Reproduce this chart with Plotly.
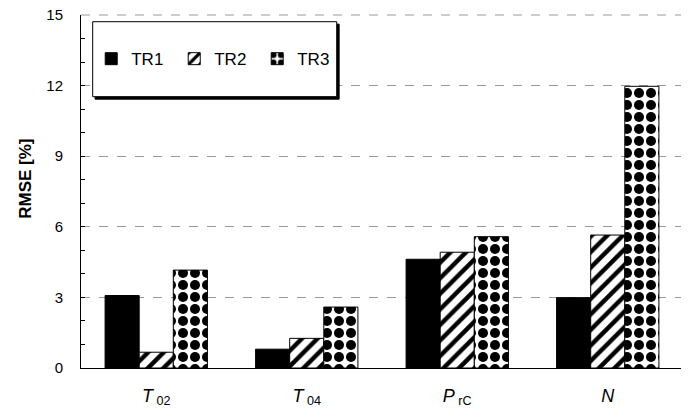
import plotly.graph_objects as go

categories = ["<i>T</i><sub> 02</sub>", "<i>T</i><sub> 04</sub>", "<i>P</i><sub> rC</sub>", "<i>N</i>"]
tr1 = [3.08, 0.80, 4.62, 2.99]
tr2 = [0.67, 1.26, 4.92, 5.65]
tr3 = [4.16, 2.59, 5.58, 11.97]
y_ticks = [0, 3, 6, 9, 12, 15]

FONT = "Liberation Sans, Arial, sans-serif"

fig = go.Figure()
fig.add_trace(go.Bar(name="TR1", x=categories, y=tr1,
                     marker=dict(color="black", line=dict(color="black", width=1))))
fig.add_trace(go.Bar(name="TR2", x=categories, y=tr2,
                     marker=dict(color="white", line=dict(color="black", width=1),
                                 pattern=dict(shape="/", fgcolor="black", bgcolor="white",
                                              fgopacity=1, size=11, solidity=0.4,
                                              fillmode="replace"))))
fig.add_trace(go.Bar(name="TR3", x=categories, y=tr3,
                     marker=dict(color="white", line=dict(color="black", width=1),
                                 pattern=dict(shape=".", fgcolor="black", bgcolor="white",
                                              fgopacity=1, size=12, solidity=0.55,
                                              fillmode="replace"))))

# top dashed boundary and right border
fig.add_shape(type="line", xref="paper", yref="paper", x0=0, x1=1, y0=1, y1=1,
              line=dict(color="#999999", width=1, dash="dash"), layer="above")
fig.add_shape(type="line", xref="paper", yref="paper", x0=1, x1=1, y0=0, y1=1,
              line=dict(color="#808080", width=1), layer="above")

# legend box with shadow
bx0, bx1, by0, by1 = 0.0194, 0.4248, 0.7686, 0.981
dx, dy = 0.0040, 0.0070
fig.add_shape(type="rect", xref="paper", yref="paper", x0=bx0 + dx, x1=bx1 + dx, y0=by0 - dy, y1=by1 - dy,
              fillcolor="black", line=dict(color="black", width=1), layer="above")
fig.add_shape(type="rect", xref="paper", yref="paper", x0=bx0, x1=bx1, y0=by0, y1=by1,
              fillcolor="white", line=dict(color="black", width=1), layer="above")

fig.add_annotation(text="<b>RMSE [%]</b>", xref="paper", yref="paper",
                   x=-0.092, y=0.535, xanchor="center", yanchor="middle",
                   textangle=-90, showarrow=False,
                   font=dict(family=FONT, size=17, color="black"))

# the page body adds an 8px offset, so the figure is sized/margined to compensate
fig.update_layout(
    width=681, height=400,
    margin=dict(l=73, r=6, t=7, b=40),
    paper_bgcolor="white", plot_bgcolor="white",
    barmode="group", bargap=0.32, bargroupgap=0,
    font=dict(family=FONT, color="black"),
    legend=dict(orientation="h", x=0.017, y=0.875, xanchor="left", yanchor="middle",
                bgcolor="rgba(0,0,0,0)", borderwidth=0,
                font=dict(family=FONT, size=17, color="black"),
                itemwidth=30, entrywidth=38, entrywidthmode="pixels",
                traceorder="normal"),
)
fig.update_xaxes(showline=True, linecolor="black", linewidth=1, ticks="",
                 tickfont=dict(family=FONT, size=18, color="black"),
                 ticklabelstandoff=11, showgrid=False, automargin=False)
fig.update_yaxes(range=[0, 15], tickvals=y_ticks, showline=True, linecolor="black", linewidth=1,
                 ticks="inside", ticklen=4, tickcolor="black",
                 minor=dict(dtick=1, ticks="inside", ticklen=4, tickcolor="black", showgrid=False),
                 showgrid=True, gridcolor="#999999", griddash="dash", gridwidth=1,
                 zeroline=False, automargin=False, ticklabeloverflow="allow",
                 tickfont=dict(family=FONT, size=15, color="black"),
                 ticklabelstandoff=14)

fig.write_html("out.html")
